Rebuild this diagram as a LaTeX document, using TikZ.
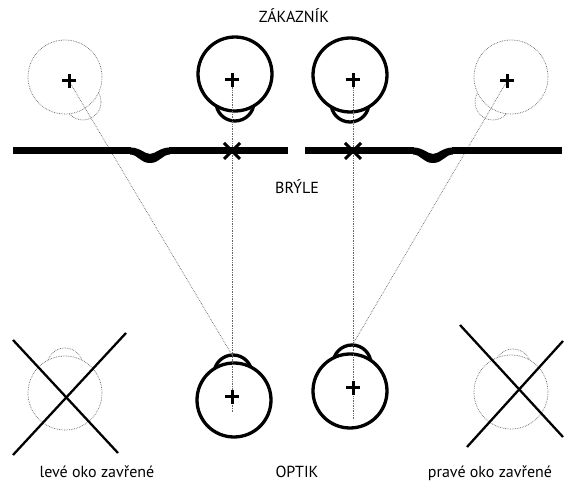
\documentclass[tikz,border=0pt]{standalone}
\usepackage{fontspec}
\setmainfont{PT Sans}
\usepackage{tikz}
\definecolor{dotgray}{rgb}{0.4, 0.4, 0.4}

\begin{document}
\begin{tikzpicture}[x=1pt, y=-1pt,
		eye/.style={line width=3.3pt, fill=white},
		shut/.style={dotgray, densely dotted, line width=0.7pt, fill=white},
		ray/.style={dotgray, densely dotted, line width=0.7pt},
		bar/.style={line width=7pt},
		cross/.style={line width=3pt},
		strike/.style={line width=2.3pt},
		word/.style={anchor=base, inner sep=0pt, font=\fontsize{16}{18}\selectfont}]
			\useasboundingbox (0,0) rectangle (566,481);

			% open eyes: cornea first, then the eyeball over it
			\foreach \cx/\cy/\kx/\ky in {235/74/235/102, 350/75/350/103, 234/400/233/374, 350/391/352/364}{
				\draw [eye] (\kx,\ky) circle (19pt);
				\draw [eye] (\cx,\cy) circle (37pt);
			}
			% closed eyes, dotted
			\foreach \cx/\cy/\kx/\ky in {65/77/83/102, 511/77/493/102, 65/393/65/366, 511/392/513/367}{
				\draw [shut] (\kx,\ky) circle (18pt);
				\draw [shut] (\cx,\cy) circle (37pt);
			}

			\coordinate (kL) at (69,81);
			\coordinate (kA) at (232,80);
			\coordinate (kB) at (353,80);
			\coordinate (kR) at (507,81);
			\coordinate (oA) at (232,397);
			\coordinate (oB) at (353,388);
			\coordinate (oAtop) at (232,355);
			\coordinate (oBtop) at (353,344);
			\coordinate (oAend) at (232,412);
			\coordinate (oBend) at (353,420);

			\draw [ray] (kA) -- (oAend);
			\draw [ray] (kB) -- (oBend);
			\draw [ray] (kL) -- (oAtop);
			\draw [ray] (kR) -- (oBtop);

			\foreach \p in {kL, kA, kB, kR, oA, oB}{
				\draw [cross] ([xshift=-7pt]\p) -- ([xshift=7pt]\p);
				\draw [cross] ([yshift=-7pt]\p) -- ([yshift=7pt]\p);
			}

			% the spectacles
			\draw [bar] (13,151) -- (131,151);
			\draw [bar] (169,151) -- (288,151);
			\draw [bar] (305,151) -- (414,151);
			\draw [bar] (452,151) -- (562,151);
			\foreach \b in {150,433}{
				\fill [shift={(\b,151)}] (-20,-3.5) .. controls (-10,-3.5) and (-6,2.5) .. (0,3)
					.. controls (6,2.5) and (10,-3.5) .. (20,-3.5) -- (20,3.5)
					.. controls (12,3.5) and (10,12) .. (0,12)
					.. controls (-10,12) and (-12,3.5) .. (-20,3.5) -- cycle;
			}
			\foreach \x in {232,353}{
				\draw [cross] (\x-8,143) -- (\x+8,159);
				\draw [cross] (\x-8,159) -- (\x+8,143);
			}

			% crossed out eyes
			\draw [strike] (13,340) -- (118,453);
			\draw [strike] (126,333) -- (13,455);
			\draw [strike] (460,325) -- (563,437);
			\draw [strike] (467,447) -- (563,341);

			\node [word] (zakaznik) at (294,23) {ZÁKAZNÍK};
			\node [word] (bryle) at (297,194) {BRÝLE};
			\node [word] (optik) at (297,478) {OPTIK};
			\node [word] (leve) at (97,478) {levé oko zavřené};
			\node [word] (prave) at (490,478) {pravé oko zavřené};
		\end{tikzpicture}
\end{document}
